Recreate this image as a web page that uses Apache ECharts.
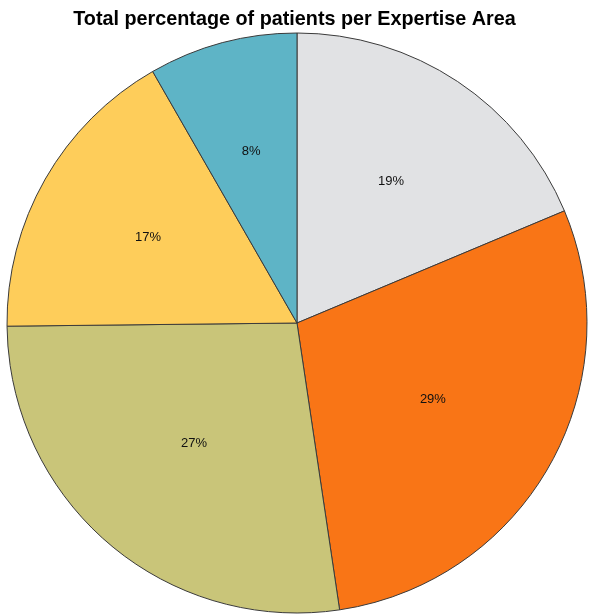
<!DOCTYPE html>
<html>
<head>
<meta charset="utf-8">
<style>html,body{margin:0;padding:0;background:#fff;}#c{width:589px;height:614px;}</style>
<script src="https://cdn.jsdelivr.net/npm/echarts@6/dist/echarts.min.js"></script>
</head>
<body>
<div id="c"></div>
<script>
const categories = ['Area A', 'Area B', 'Area C', 'Area D', 'Area E'];
const values = [18.7, 29.0, 27.2, 16.9, 8.3];
const colors = ['#e1e2e4', '#f97516', '#c9c579', '#fecd5a', '#5eb4c6'];
const titleText = 'Total percentage of patients per Expertise Area';

const CX = 297, CY = 323, R = 290;
const total = values.reduce((a, b) => a + b, 0);

const chart = echarts.init(document.getElementById('c'), null, {renderer: 'canvas'});
chart.setOption({
  animation: false,
  title: {
    text: titleText,
    left: 'center',
    top: 5,
    textStyle: {fontFamily: 'Liberation Sans, Arial', fontSize: 19.8, fontWeight: 'bold', color: '#000'}
  },
  series: [{
    type: 'pie',
    center: [CX, CY],
    radius: R,
    startAngle: 90,
    clockwise: true,
    label: {
      show: true,
      position: 'inside',
      formatter: p => Math.round(p.value) + '%',
      fontFamily: 'Liberation Sans, Arial',
      fontSize: 13,
      color: '#111'
    },
    labelLine: {show: false},
    labelLayout: function (p) {
      // move label outward to approx. sector centroid distance
      const v = values[p.dataIndex];
      const theta = v / total * 2 * Math.PI;
      const dist = 0.93 * 4 * R * Math.sin(theta / 2) / (3 * theta);
      const lx = p.labelRect.x + p.labelRect.width / 2;
      const ly = p.labelRect.y + p.labelRect.height / 2;
      const dx = lx - CX, dy = ly - CY;
      const d = Math.sqrt(dx * dx + dy * dy) || 1;
      return {x: CX + dx / d * dist, y: CY + dy / d * dist, align: 'center', verticalAlign: 'middle'};
    },
    itemStyle: {borderColor: '#3a3a3a', borderWidth: 1},
    emphasis: {disabled: true},
    data: categories.map((c, i) => ({name: c, value: values[i], itemStyle: {color: colors[i]}}))
  }]
});
</script>
</body>
</html>
